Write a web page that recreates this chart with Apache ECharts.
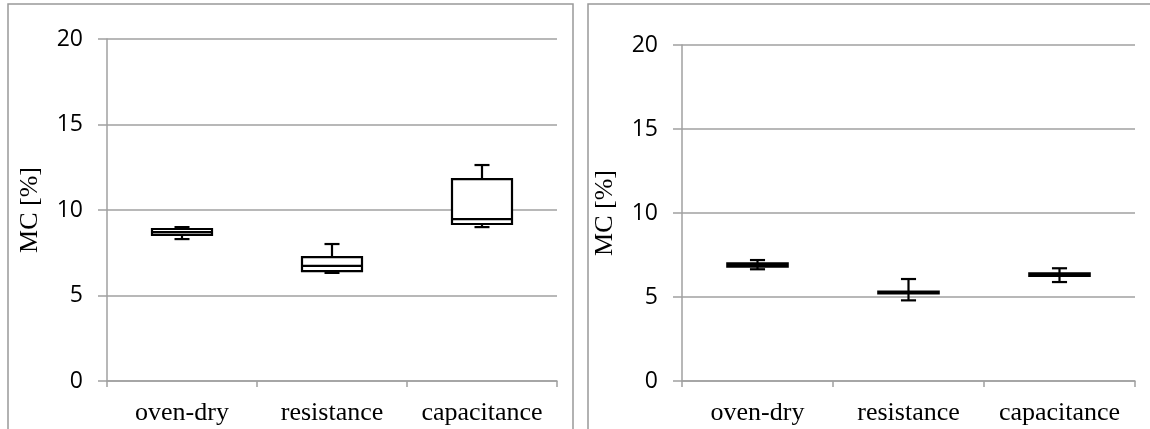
<!DOCTYPE html>
<html>
<head>
<meta charset="utf-8">
<script src="https://cdn.jsdelivr.net/npm/echarts@6/dist/echarts.min.js"></script>
<style>
  html, body { margin: 0; padding: 0; background: #fff; }
  #chart { width: 1150px; height: 429px; }
</style>
</head>
<body>
<div id="chart"></div>
<script>
// categories and five-number summaries [min, q1, median, q3, max]
const categories = ['oven-dry', 'resistance', 'capacitance'];
const yTicks = [0, 5, 10, 15, 20];
const leftBoxes = [
  [8.30, 8.54, 8.71, 8.89, 9.00],
  [6.32, 6.43, 6.73, 7.25, 8.01],
  [9.00, 9.18, 9.47, 11.81, 12.63]
];
const rightBoxes = [
  [6.65, 6.80, 6.90, 7.00, 7.20],
  [4.80, 5.22, 5.27, 5.32, 6.07],
  [5.89, 6.25, 6.33, 6.41, 6.71]
];

const gridColor = '#a0a0a0';

const chart = echarts.init(document.getElementById('chart'));

function boxItem(params, api) {
  const x = api.value(0);
  const lo = api.coord([x, api.value(1)]);
  const q1 = api.coord([x, api.value(2)]);
  const md = api.coord([x, api.value(3)]);
  const q3 = api.coord([x, api.value(4)]);
  const hi = api.coord([x, api.value(5)]);
  const band = api.size([1, 0])[0];
  const bw = band * 0.4;
  const cw = band * 0.1;
  const cx = lo[0];
  const stroke = { stroke: '#000', lineWidth: 2.2 };
  return {
    type: 'group',
    children: [
      { type: 'line', shape: { x1: cx, y1: hi[1], x2: cx, y2: lo[1] }, style: stroke },
      { type: 'line', shape: { x1: cx - cw / 2, y1: hi[1], x2: cx + cw / 2, y2: hi[1] }, style: stroke },
      { type: 'line', shape: { x1: cx - cw / 2, y1: lo[1], x2: cx + cw / 2, y2: lo[1] }, style: stroke },
      { type: 'rect', shape: { x: cx - bw / 2, y: q3[1], width: bw, height: q1[1] - q3[1] },
        style: { fill: '#fff', stroke: '#000', lineWidth: 2.2 } },
      { type: 'line', shape: { x1: cx - bw / 2, y1: md[1], x2: cx + bw / 2, y2: md[1] }, style: stroke }
    ]
  };
}

function toRows(boxes) {
  return boxes.map((b, i) => [i].concat(b));
}

function xAxisOpt(idx) {
  return {
    type: 'category',
    gridIndex: idx,
    data: categories,
    boundaryGap: true,
    axisLine: { show: true, lineStyle: { color: gridColor, width: 1.5 } },
    axisTick: { show: true, length: 6, lineStyle: { color: gridColor, width: 1.5 } },
    axisLabel: {
      color: '#000',
      fontFamily: 'Liberation Serif',
      fontSize: 26,
      margin: 19,
      interval: 0,
      hideOverlap: false
    },
    splitLine: { show: false }
  };
}

function yAxisOpt(idx, margin) {
  return {
    type: 'value',
    gridIndex: idx,
    min: yTicks[0],
    max: yTicks[yTicks.length - 1],
    interval: 5,
    name: 'MC [%]',
    nameLocation: 'middle',
    nameRotate: 90,
    nameGap: margin + 40,
    nameTextStyle: { color: '#000', fontFamily: 'Liberation Serif', fontSize: 26 },
    axisLine: { show: true, lineStyle: { color: gridColor, width: 1.5 } },
    axisTick: { show: true, length: 9, lineStyle: { color: gridColor, width: 1.5 } },
    axisLabel: {
      color: '#000',
      fontFamily: 'Open Sans',
      fontSize: 23,
      margin: margin
    },
    splitLine: { show: true, lineStyle: { color: gridColor, width: 1.5 } }
  };
}

const option = {
  animation: false,
  backgroundColor: '#fff',
  graphic: [
    { type: 'rect', shape: { x: 8, y: 4, width: 565, height: 450 },
      style: { fill: 'none', stroke: '#999', lineWidth: 1.5 } },
    { type: 'rect', shape: { x: 588, y: 4, width: 580, height: 450 },
      style: { fill: 'none', stroke: '#999', lineWidth: 1.5 } }
  ],
  grid: [
    { left: 107, top: 39, width: 450, height: 342 },
    { left: 682, top: 45, width: 453, height: 336 }
  ],
  xAxis: [xAxisOpt(0), xAxisOpt(1)],
  yAxis: [yAxisOpt(0, 24), yAxisOpt(1, 24)],
  series: [
    {
      type: 'custom',
      xAxisIndex: 0,
      yAxisIndex: 0,
      renderItem: boxItem,
      encode: { x: 0, y: [1, 2, 3, 4, 5] },
      data: toRows(leftBoxes)
    },
    {
      type: 'custom',
      xAxisIndex: 1,
      yAxisIndex: 1,
      renderItem: boxItem,
      encode: { x: 0, y: [1, 2, 3, 4, 5] },
      data: toRows(rightBoxes)
    }
  ]
};

chart.setOption(option);
</script>
</body>
</html>
